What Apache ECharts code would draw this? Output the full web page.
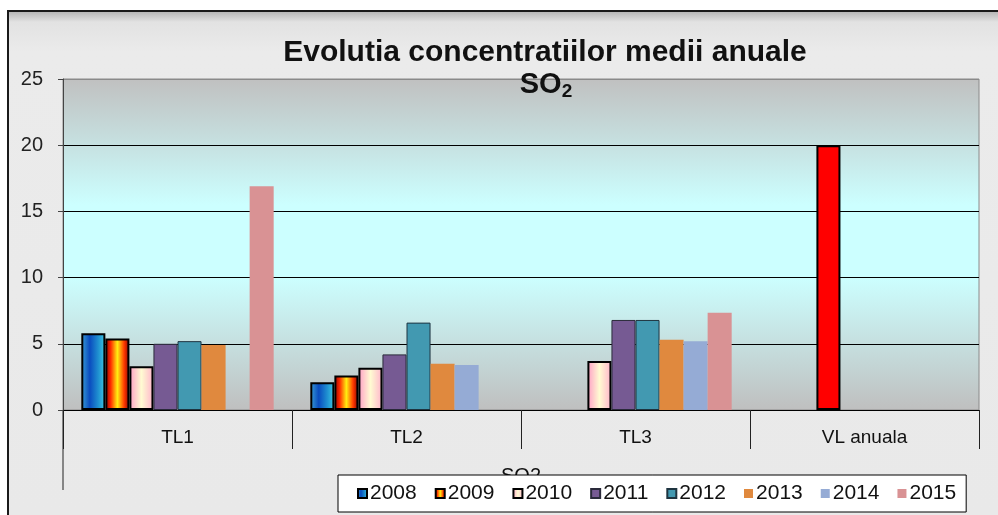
<!DOCTYPE html>
<html>
<head>
<meta charset="utf-8">
<script src="https://cdn.jsdelivr.net/npm/echarts@6/dist/echarts.min.js"></script>
<style>
  html, body { margin: 0; padding: 0; background: #fff; }
  #frame {
    position: absolute; left: 7px; top: 10px; width: 989px; height: 503px;
    border-left: 2px solid #1a1a1a; border-top: 2px solid #1a1a1a;
    background: linear-gradient(#b8b8b8 0px, #e2e2e2 10px, #ebebeb 40px, #e9e9e9 100%);
  }
  #main { position: absolute; left: 0; top: 0; width: 998px; height: 515px; }
</style>
</head>
<body>
<div id="frame"></div>
<div id="main"></div>
<script>
  // categories and values
  const categories = ['TL1', 'TL2', 'TL3', 'VL anuala'];
  const years = ['2008', '2009', '2010', '2011', '2012', '2013', '2014', '2015'];
  const v2008 = [5.8, 2.1, null, null];
  const v2009 = [5.4, 2.6, null, null];
  const v2010 = [3.3, 3.2, 3.7, 20];
  const v2011 = [5.0, 4.2, 6.8, null];
  const v2012 = [5.2, 6.6, 6.8, null];
  const v2013 = [4.9, 3.5, 5.3, null];
  const v2014 = [null, 3.4, 5.2, null];
  const v2015 = [16.9, null, 7.35, null];
  const yTicks = [0, 5, 10, 15, 20, 25];

  const hGrad = (stops) => ({
    type: 'linear', x: 0, y: 0, x2: 1, y2: 0,
    colorStops: stops.map(s => ({ offset: s[0], color: s[1] }))
  });

  const styles = [
    { color: hGrad([[0, '#3a9fd6'], [0.35, '#0a4cbf'], [0.7, '#1f8fd0'], [1, '#3fcbe2']]), borderColor: '#000', borderWidth: 2 },
    { color: hGrad([[0, '#8c0000'], [0.22, '#ff2a00'], [0.5, '#ffee10'], [0.78, '#ff3a00'], [1, '#8c0000']]), borderColor: '#000', borderWidth: 2 },
    { color: hGrad([[0, '#ff9ec6'], [0.5, '#fffbd2'], [1, '#ffb4cc']]), borderColor: '#000', borderWidth: 2 },
    { color: '#765a93', borderColor: '#2a2a3a', borderWidth: 1 },
    { color: '#4299b1', borderColor: '#1e3440', borderWidth: 1 },
    { color: '#e0893e', borderWidth: 0 },
    { color: '#95abd5', borderWidth: 0 },
    { color: '#d99294', borderWidth: 0 }
  ];
  const values = [v2008, v2009, v2010, v2011, v2012, v2013, v2014, v2015];

  const series = years.map((y, i) => ({
    name: y,
    type: 'bar',
    barGap: 0,
    barCategoryGap: '16%',
    itemStyle: styles[i],
    data: values[i].map((v, j) => {
      // limit value (VL anuala) is drawn in red
      if (y === '2010' && categories[j] === 'VL anuala') {
        return { value: v, itemStyle: { color: '#ff0000', borderColor: '#000', borderWidth: 2 } };
      }
      return v;
    })
  }));

  const chart = echarts.init(document.getElementById('main'));
  const option = {
    animation: false,
    textStyle: { fontFamily: 'Liberation Sans, Arial, sans-serif' },
    title: [
      {
        text: 'Evolutia concentratiilor medii anuale',
        left: 540, top: 33, textAlign: 'center',
        textStyle: { fontFamily: 'Liberation Sans, Arial', fontSize: 30, fontWeight: 'bold', color: '#111' }
      },
      {
        text: '{a|SO}{s|2}',
        left: 541, top: 63, textAlign: 'center',
        textStyle: {
          rich: {
            a: { fontFamily: 'Liberation Sans, Arial', fontSize: 29, fontWeight: 'bold', color: '#111' },
            s: { fontFamily: 'Liberation Sans, Arial', fontSize: 19, fontWeight: 'bold', color: '#111', padding: [14, 0, 0, 0] }
          }
        }
      }
    ],
    legend: {
      data: years,
      left: 338, top: 475,
      padding: [8, 10, 8, 19],
      itemGap: 18,
      itemWidth: 9, itemHeight: 9,
      icon: 'rect',
      backgroundColor: '#fff',
      borderColor: '#000', borderWidth: 1,
      textStyle: { fontSize: 21, color: '#111', padding: [0, 0, 0, -2] }
    },
    grid: {
      left: 63, right: 19, top: 79, bottom: 105,
      show: true,
      borderColor: '#8a8a8a', borderWidth: 1,
      backgroundColor: {
        type: 'linear', x: 0, y: 0, x2: 0, y2: 1,
        colorStops: [
          { offset: 0, color: '#c0c0c0' },
          { offset: 0.38, color: '#ccffff' },
          { offset: 0.6, color: '#ccffff' },
          { offset: 1, color: '#bfbfbf' }
        ]
      }
    },
    xAxis: {
      type: 'category',
      data: categories,
      name: 'SO2',
      nameLocation: 'middle',
      nameGap: 56,
      nameTextStyle: { fontSize: 20, color: '#111' },
      axisLine: { lineStyle: { color: '#000', width: 1 } },
      axisTick: { show: true, length: 39, lineStyle: { color: '#222' } },
      axisLabel: { fontSize: 19, color: '#111', margin: 18 }
    },
    yAxis: {
      type: 'value',
      min: yTicks[0],
      max: yTicks[yTicks.length - 1],
      interval: 5,
      axisLine: { show: true, lineStyle: { color: '#444' } },
      axisTick: { show: true, length: 5, lineStyle: { color: '#444' } },
      axisLabel: { fontSize: 20, color: '#222', margin: 20 },
      splitLine: { lineStyle: { color: ['#000', '#000', '#000', '#000', '#000', '#8a8a8a'], width: 1 } }
    },
    graphic: [
      { type: 'line', shape: { x1: 63, y1: 410, x2: 63, y2: 490 }, style: { stroke: '#222', lineWidth: 1 } }
    ],
    series: series
  };
  chart.setOption(option);
  window.addEventListener('resize', () => { chart.resize() });
</script>
</body>
</html>
